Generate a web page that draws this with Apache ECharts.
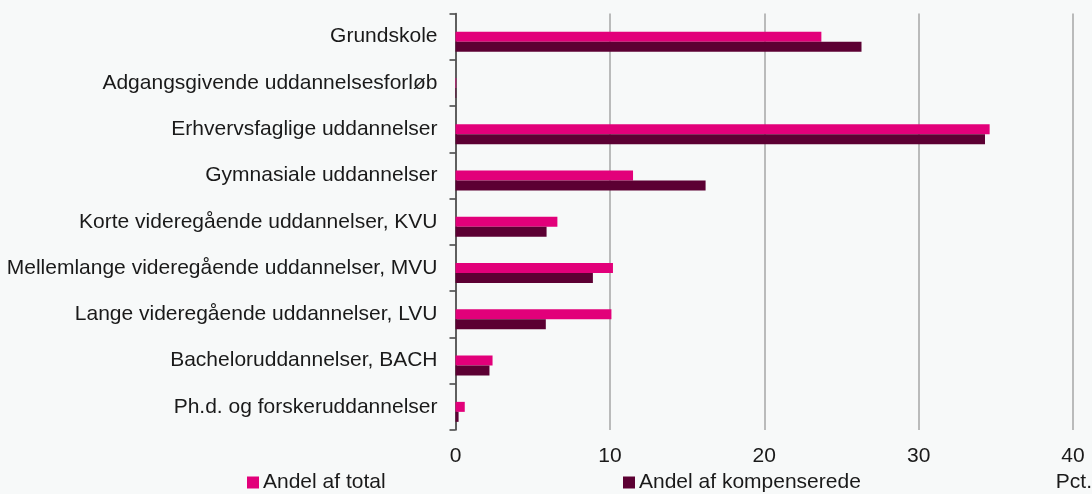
<!DOCTYPE html>
<html>
<head>
<meta charset="utf-8">
<script src="https://cdn.jsdelivr.net/npm/echarts@6/dist/echarts.min.js"></script>
<style>
  html, body { margin: 0; padding: 0; background: #f7f9f9; }
  #chart { width: 1092px; height: 494px; }
</style>
</head>
<body>
<div id="chart"></div>
<script>
// Education levels (top to bottom)
const categories = [
  'Grundskole',
  'Adgangsgivende uddannelsesforløb',
  'Erhvervsfaglige uddannelser',
  'Gymnasiale uddannelser',
  'Korte videregående uddannelser, KVU',
  'Mellemlange videregående uddannelser, MVU',
  'Lange videregående uddannelser, LVU',
  'Bacheloruddannelser, BACH',
  'Ph.d. og forskeruddannelser'
];

// Share of total, pct.
const andelTotal = [23.7, 0.05, 34.6, 11.5, 6.6, 10.2, 10.1, 2.4, 0.6];
// Share of compensated, pct.
const andelKompenserede = [26.3, 0.05, 34.3, 16.2, 5.9, 8.9, 5.85, 2.2, 0.2];

const xTicks = [0, 10, 20, 30, 40];
const seriesNames = ['Andel af total', 'Andel af kompenserede'];
const unitLabel = 'Pct.';

const font = 'Arial, "Liberation Sans", sans-serif';
const textColor = '#1a1a1a';
const fontSize = 21;

const chart = echarts.init(document.getElementById('chart'), null, { renderer: 'canvas' });

const legendBase = {
  icon: 'rect', itemWidth: 12, itemHeight: 12, itemGap: 0, padding: 0,
  textStyle: { fontSize: fontSize, color: textColor, fontFamily: font, padding: [0, 0, 0, -1] }
};

chart.setOption({
  backgroundColor: '#f7f9f9',
  animation: false,
  textStyle: { fontFamily: font, color: textColor },
  grid: { left: 455.5, right: 19, top: 13.5, bottom: 64, containLabel: false },
  legend: [
    Object.assign({ data: [seriesNames[0]], left: 247, top: 472 }, legendBase),
    Object.assign({ data: [seriesNames[1]], left: 623, top: 472 }, legendBase)
  ],
  graphic: [
    {
      type: 'text',
      right: 0, top: 472,
      style: { text: unitLabel, fontSize: fontSize, fontFamily: font, fill: textColor }
    }
  ],
  xAxis: {
    type: 'value',
    min: xTicks[0],
    max: xTicks[xTicks.length - 1],
    interval: 10,
    axisLine: { show: false },
    axisTick: { show: false },
    axisLabel: { fontSize: fontSize, color: textColor, fontFamily: font, margin: 16 },
    splitLine: {
      show: true,
      lineStyle: { color: '#a6a6a6', width: 1.5 }
    }
  },
  yAxis: {
    type: 'category',
    data: categories,
    inverse: true,
    axisLine: { show: true, lineStyle: { color: '#404040', width: 1.5 } },
    axisTick: { show: true, length: 6, lineStyle: { color: '#404040', width: 1.5 } },
    axisLabel: { fontSize: fontSize, color: textColor, fontFamily: font, margin: 18, padding: [4, 0, 0, 0] }
  },
  series: [
    {
      // empty spacer slot, keeps the bar pair set slightly below each band's centre
      name: 'spacer',
      type: 'bar',
      data: categories.map(() => null),
      barWidth: 10,
      barGap: '0%',
      silent: true,
      itemStyle: { color: 'rgba(0,0,0,0)' }
    },
    {
      name: seriesNames[0],
      type: 'bar',
      data: andelTotal,
      barWidth: 10,
      barGap: '0%',
      itemStyle: { color: '#e2007a' }
    },
    {
      name: seriesNames[1],
      type: 'bar',
      data: andelKompenserede,
      barWidth: 10,
      barGap: '0%',
      itemStyle: { color: '#5c0033' }
    }
  ]
});
</script>
</body>
</html>
